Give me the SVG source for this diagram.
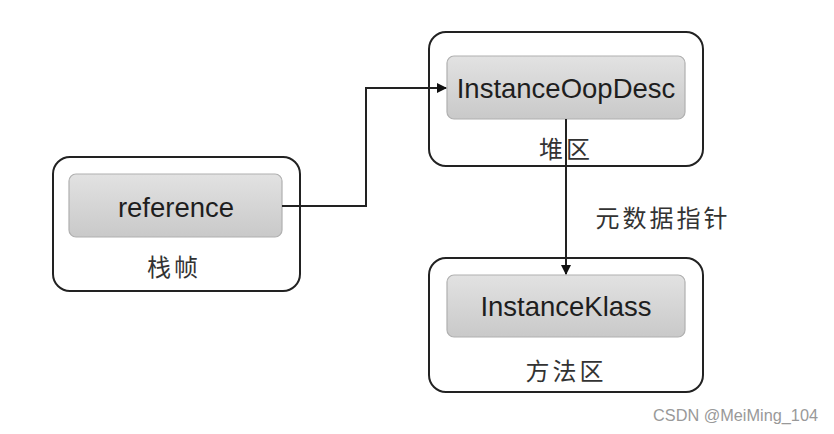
<svg xmlns="http://www.w3.org/2000/svg" width="834" height="434" viewBox="0 0 834 434">
<style>
.outer{fill:#fff;stroke:#222;stroke-width:2}
.inner{fill:url(#g);stroke:#b0b0b0;stroke-width:1.2}
.t{font-family:"Liberation Sans","Noto Sans CJK SC",sans-serif;font-size:27.5px;fill:#1e1e1e;text-anchor:middle}
.c{font-family:"Noto Sans CJK SC","Liberation Sans",sans-serif;font-size:24px;letter-spacing:3px;fill:#333;text-anchor:middle}
.ln{fill:none;stroke:#222;stroke-width:2}
</style>
<defs>
<linearGradient id="g" x1="0" y1="0" x2="0" y2="1">
<stop offset="0" stop-color="#e2e2e2"/>
<stop offset="1" stop-color="#c9c9c9"/>
</linearGradient>
<marker id="arr" markerWidth="10" markerHeight="10" refX="9" refY="5" orient="auto" markerUnits="userSpaceOnUse">
<path d="M0,0 L10,5 L0,10 Z" fill="#111"/>
</marker>
</defs>
<rect width="834" height="434" fill="#fff"/>
<g id="stack">
<rect class="outer" x="53" y="157" width="247" height="134" rx="17"/>
<rect class="inner" x="69" y="174" width="213" height="63" rx="7"/>
<text class="t" x="176" y="217">reference</text>
<text class="c" x="174" y="276">栈帧</text>
</g>
<g id="heap">
<rect class="outer" x="429" y="32" width="274" height="134" rx="17"/>
<rect class="inner" x="447" y="56" width="238" height="63" rx="7"/>
<text class="t" x="566" y="98">InstanceOopDesc</text>
<text class="c" x="566" y="158">堆区</text>
</g>
<g id="method">
<rect class="outer" x="429" y="258" width="274" height="134" rx="17"/>
<rect class="inner" x="447" y="275" width="238" height="62" rx="7"/>
<text class="t" x="566" y="316">InstanceKlass</text>
<text class="c" x="566" y="380">方法区</text>
</g>
<g id="connectors">
<polyline class="ln" points="282,206 366,206 366,88 446,88" marker-end="url(#arr)"/>
<line class="ln" x1="566" y1="119" x2="566" y2="274" marker-end="url(#arr)"/>
<text class="c" x="663" y="227">元数据指针</text>
</g>
<text x="818" y="421" font-family="Liberation Sans, sans-serif" font-size="16.3" fill="#999" text-anchor="end">CSDN @MeiMing_104</text>
</svg>
